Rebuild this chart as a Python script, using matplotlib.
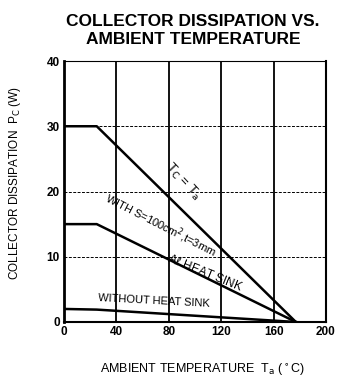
import matplotlib
matplotlib.use("Agg")
import matplotlib.pyplot as plt

# Data
tc_x = [0, 25, 177]
tc_y = [30, 30, 0]
hs_x = [0, 25, 177]
hs_y = [15, 15, 0]
nohs_x = [0, 25, 177]
nohs_y = [2.0, 1.9, 0]
x_ticks = [0, 40, 80, 120, 160, 200]
y_ticks = [0, 10, 20, 30, 40]

plt.rcParams['font.family'] = ['Liberation Sans', 'DejaVu Sans']

fig = plt.figure(figsize=(3.53, 3.87), dpi=100)
ax = fig.add_axes([64/353, 1-322/387, (326-64)/353, (322-61)/387])

ax.set_xlim(0, 200)
ax.set_ylim(0, 40)

for xv in x_ticks[1:-1]:
    ax.axvline(xv, color='black', lw=1.3, zorder=1)
for yv in y_ticks[1:-1]:
    ax.axhline(yv, color='black', lw=0.7, ls=(0, (3, 1.5)), zorder=1)

ax.plot(tc_x, tc_y, color='black', lw=1.8, zorder=3)
ax.plot(hs_x, hs_y, color='black', lw=1.8, zorder=3)
ax.plot(nohs_x, nohs_y, color='black', lw=1.8, zorder=3)

ax.set_xticks(x_ticks)
ax.set_yticks(y_ticks)
ax.tick_params(axis='both', length=0, pad=3, labelsize=8.5)
for lab in ax.get_xticklabels() + ax.get_yticklabels():
    lab.set_fontweight('bold')

ax.spines['left'].set_linewidth(2.0)
ax.spines['bottom'].set_linewidth(1.5)
ax.spines['right'].set_linewidth(1.5)
ax.spines['top'].set_linewidth(0.8)
ax.spines['top'].set_linestyle((0, (3, 1)))

ax.text(91, 21.6, r'T$_\mathrm{C}$ = T$_\mathrm{a}$', rotation=-47, fontsize=9.5,
        ha='center', va='center')
ax.text(73.5, 14.9, r'WITH S=100cm$^2$,t=3mm', rotation=-27, fontsize=8,
        ha='center', va='center')
ax.text(108, 7.6, r'A$\ell$ HEAT SINK', rotation=-22, fontsize=8.5,
        ha='center', va='center')
ax.text(69, 3.2, 'WITHOUT HEAT SINK', rotation=-3, fontsize=8,
        ha='center', va='center')

fig.text(193/353, 1-22/387, 'COLLECTOR DISSIPATION VS.', fontsize=12.5,
         fontweight='bold', ha='center', va='center')
fig.text(193/353, 1-39/387, 'AMBIENT TEMPERATURE', fontsize=12.5,
         fontweight='bold', ha='center', va='center')

fig.text(15/353, 1-183/387, r'COLLECTOR DISSIPATION  P$_\mathrm{C}$ (W)', rotation=90,
         fontsize=8.5, ha='center', va='center')
fig.text(203/353, 1-370/387, r'AMBIENT TEMPERATURE  T$_\mathrm{a}$ ($^\circ$C)',
         fontsize=9, ha='center', va='center')

fig.savefig('out.png', dpi=100)
